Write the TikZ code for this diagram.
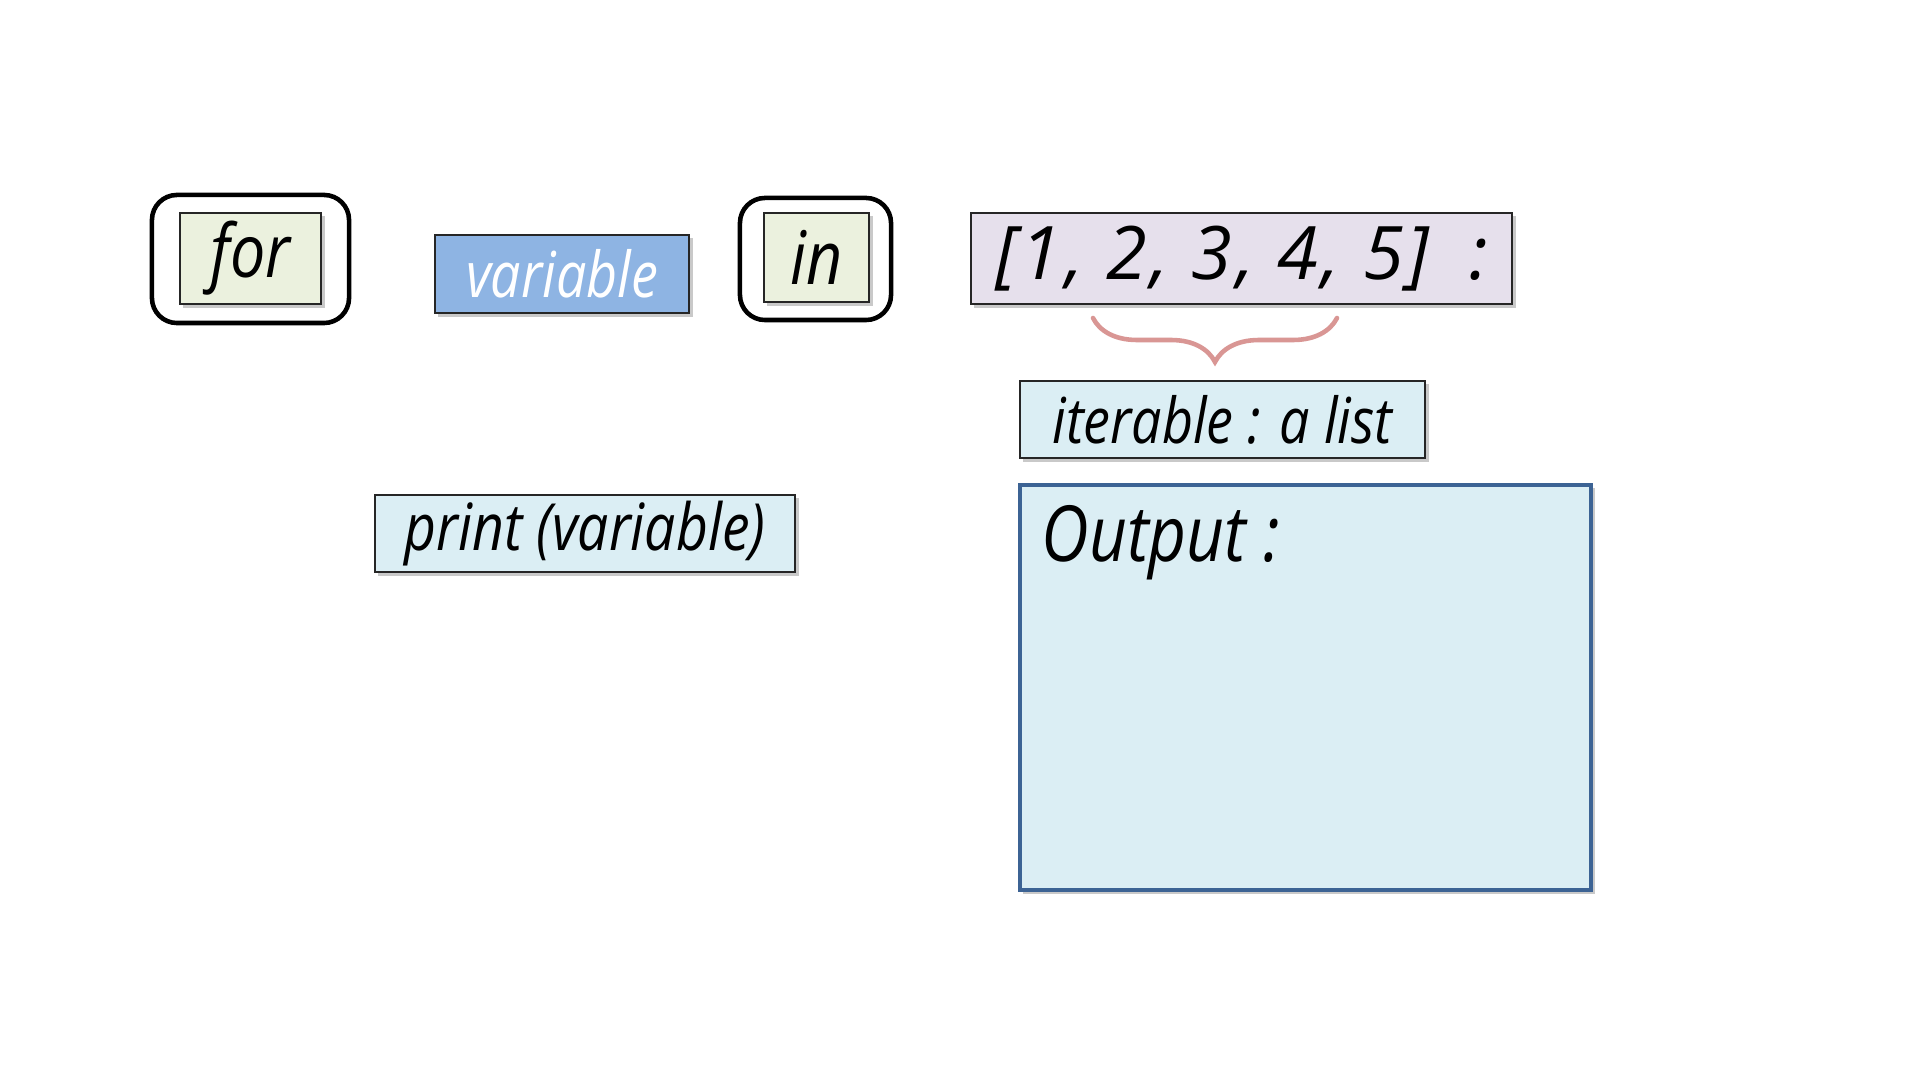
\documentclass[tikz,border=0pt]{standalone}
\usepackage{fontspec}
\newfontfamily\hand{Open Sans}[FakeStretch=0.85]
\newfontfamily\handwide{Open Sans}[LetterSpace=5]
\usetikzlibrary{shadows,decorations.pathreplacing}
\definecolor{greenfill}{HTML}{EBF1DE}
\definecolor{varfill}{HTML}{8EB4E3}
\definecolor{listfill}{HTML}{E6E0EC}
\definecolor{bluefill}{HTML}{DBEEF4}
\definecolor{outborder}{HTML}{3C6394}
\definecolor{bracecol}{HTML}{D99694}
\tikzset{
  shd/.style={drop shadow={shadow xshift=0.035cm, shadow yshift=-0.035cm, opacity=0.35, fill=black!60}},
  outerbox/.style={draw=black, line width=1.3pt, rounded corners=0.25cm, fill=white, inner sep=0pt},
  kwbox/.style={draw=black!85, line width=0.6pt, fill=greenfill, shd, inner sep=0pt},
  plainbox/.style={draw=black!85, line width=0.6pt, shd, inner sep=0pt, font=\hand\itshape},
}
\begin{document}
\begin{tikzpicture}[x=0.01cm,y=-0.01cm]
\useasboundingbox[fill=white] (0,0) rectangle (1920,1080);
% for
\node[outerbox, minimum width=1.97cm, minimum height=1.28cm] (forout) at (250.5,259) {};
\node[kwbox, minimum width=1.41cm, minimum height=0.91cm, font=\hand\itshape\fontsize{21}{24}\selectfont] (forin) at (250.5,258.5) {for};
% variable
\node[plainbox, fill=varfill, text=white, minimum width=2.54cm, minimum height=0.78cm, font=\hand\itshape\fontsize{18}{22}\selectfont] (var) at (562,274) {variable};
% in
\node[outerbox, minimum width=1.51cm, minimum height=1.22cm] (inout) at (815.5,259) {};
\node[kwbox, minimum width=1.05cm, minimum height=0.89cm, font=\hand\itshape\fontsize{21}{24}\selectfont] (inin) at (816.5,257.5) {in};
% list
\node[plainbox, fill=listfill, minimum width=5.41cm, minimum height=0.91cm, font=\handwide\itshape\fontsize{21}{24}\selectfont] (list) at (1241.5,258.5) {[1, 2, 3, 4, 5]\hspace{0.4cm}:};
% brace
\coordinate (bl) at (1093,318);
\coordinate (br) at (1337,318);
\draw[bracecol, line width=1.3pt, line cap=round, decorate, decoration={brace, mirror, amplitude=0.44cm}] (bl) -- (br);
% iterable
\node[plainbox, fill=bluefill, minimum width=4.05cm, minimum height=0.77cm, font=\hand\itshape\fontsize{18}{21}\selectfont] (iter) at (1222.5,419.5) {iterable : a list};
% print
\node[plainbox, fill=bluefill, minimum width=4.20cm, minimum height=0.77cm, font=\hand\itshape\fontsize{18.5}{21}\selectfont] (print) at (585,533.5) {print (variable)};
% output
\node[draw=outborder, line width=1.1pt, fill=bluefill, shd, inner sep=0pt, minimum width=5.71cm, minimum height=4.05cm] (out) at (1305.5,687.5) {};
\node[anchor=north west, inner sep=0pt, font=\hand\itshape\fontsize{22}{26}\selectfont] (outtxt) at (1041,505) {Output :};
\end{tikzpicture}
\end{document}
